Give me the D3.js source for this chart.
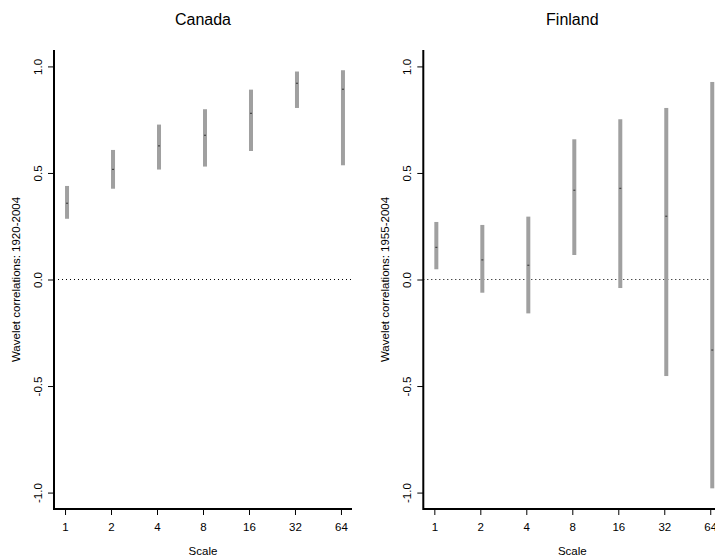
<!DOCTYPE html>
<html>
<head>
<meta charset="utf-8">
<script src="https://cdn.jsdelivr.net/npm/d3@7"></script>
<style>
  html, body { margin: 0; padding: 0; background: #fff; }
  svg { display: block; font-family: "Liberation Sans", Arial, Helvetica, sans-serif; }
</style>
</head>
<body>
<svg id="chart" width="715" height="560"></svg>
<script>
// ---- data ----
const scaleLabels = ["1", "2", "4", "8", "16", "32", "64"];
const yTicks = [-1.0, -0.5, 0.0, 0.5, 1.0];

const canadaLower = [0.285, 0.426, 0.516, 0.530, 0.603, 0.805, 0.536];
const canadaMid   = [0.358, 0.517, 0.627, 0.677, 0.780, 0.921, 0.893];
const canadaUpper = [0.439, 0.608, 0.727, 0.799, 0.891, 0.976, 0.982];

const finlandLower = [0.048, -0.062, -0.159, 0.115, -0.040, -0.453, -0.980];
const finlandMid   = [0.151, 0.092, 0.067, 0.419, 0.428, 0.297, -0.331];
const finlandUpper = [0.270, 0.256, 0.295, 0.658, 0.752, 0.805, 0.927];

const panels = [
  { title: "Canada",  ylabel: "Wavelet correlations: 1920-2004", lower: canadaLower, mid: canadaMid, upper: canadaUpper, x0: 54 },
  { title: "Finland", ylabel: "Wavelet correlations: 1955-2004", lower: finlandLower, mid: finlandMid, upper: finlandUpper, x0: 423.3 }
];

// ---- layout ----
const svg = d3.select("#chart");
const plotTop = 50, plotBottom = 509;
const plotW = 298;
const y = d3.scaleLinear().domain([-1.077, 1.077]).range([plotBottom, plotTop]);
const fmt = v => d3.format(".1f")(v).replace("\u2212", "-");

panels.forEach(p => {
  const x = d3.scaleLinear().domain([0.76, 7.24]).range([p.x0, p.x0 + plotW]);
  const g = svg.append("g");

  // zero reference line (dotted)
  g.append("line")
    .attr("x1", p.x0).attr("x2", p.x0 + plotW)
    .attr("y1", y(0)).attr("y2", y(0))
    .attr("stroke", "#000").attr("stroke-width", 1)
    .attr("stroke-dasharray", "1,3");

  // interval bars
  const idx = d3.range(scaleLabels.length);
  g.selectAll("rect.bar").data(idx).join("rect")
    .attr("class", "bar")
    .attr("x", i => x(i + 1))
    .attr("width", 4)
    .attr("y", i => y(p.upper[i]))
    .attr("height", i => y(p.lower[i]) - y(p.upper[i]))
    .attr("fill", "#a0a0a0");

  // median marks
  g.selectAll("rect.mid").data(idx).join("rect")
    .attr("class", "mid")
    .attr("x", i => x(i + 1) + 1)
    .attr("width", 2)
    .attr("y", i => y(p.mid[i]) - 0.5)
    .attr("height", 1)
    .attr("fill", "#333");

  // y axis
  const ya = d3.axisLeft(y).tickValues(yTicks).tickFormat(fmt).tickSize(6).tickPadding(6);
  const yg = g.append("g").attr("transform", `translate(${p.x0},0)`).call(ya);
  yg.select(".domain").remove();
  yg.selectAll(".tick line").attr("stroke-width", 1);
  yg.selectAll(".tick text")
    .attr("font-size", 11.5)
    .attr("font-family", "Liberation Sans, Arial, sans-serif")
    .attr("x", null).attr("dy", null)
    .attr("text-anchor", "middle")
    .attr("transform", "translate(-12,0) rotate(-90)");

  // x axis
  const xa = d3.axisBottom(x).tickValues(d3.range(1, 8)).tickFormat(d => scaleLabels[d - 1]).tickSize(6).tickPadding(8);
  const xg = g.append("g").attr("transform", `translate(0,${plotBottom})`).call(xa);
  xg.select(".domain").remove();
  xg.selectAll(".tick text")
    .attr("font-size", 11.5)
    .attr("font-family", "Liberation Sans, Arial, sans-serif");

  // L-shaped box
  g.append("path")
    .attr("d", `M${p.x0},${plotTop}V${plotBottom}H${p.x0 + plotW}`)
    .attr("fill", "none").attr("stroke", "#000").attr("stroke-width", 2);

  // title
  g.append("text")
    .attr("x", p.x0 + plotW / 2).attr("y", 25)
    .attr("text-anchor", "middle").attr("font-size", 16)
    .text(p.title);

  // x label
  g.append("text")
    .attr("x", p.x0 + plotW / 2).attr("y", 555)
    .attr("text-anchor", "middle").attr("font-size", 11.5)
    .text("Scale");

  // y label
  g.append("text")
    .attr("transform", `translate(${p.x0 - 34},${(plotTop + plotBottom) / 2}) rotate(-90)`)
    .attr("text-anchor", "middle").attr("font-size", 11.5)
    .text(p.ylabel);
});
</script>
</body>
</html>
